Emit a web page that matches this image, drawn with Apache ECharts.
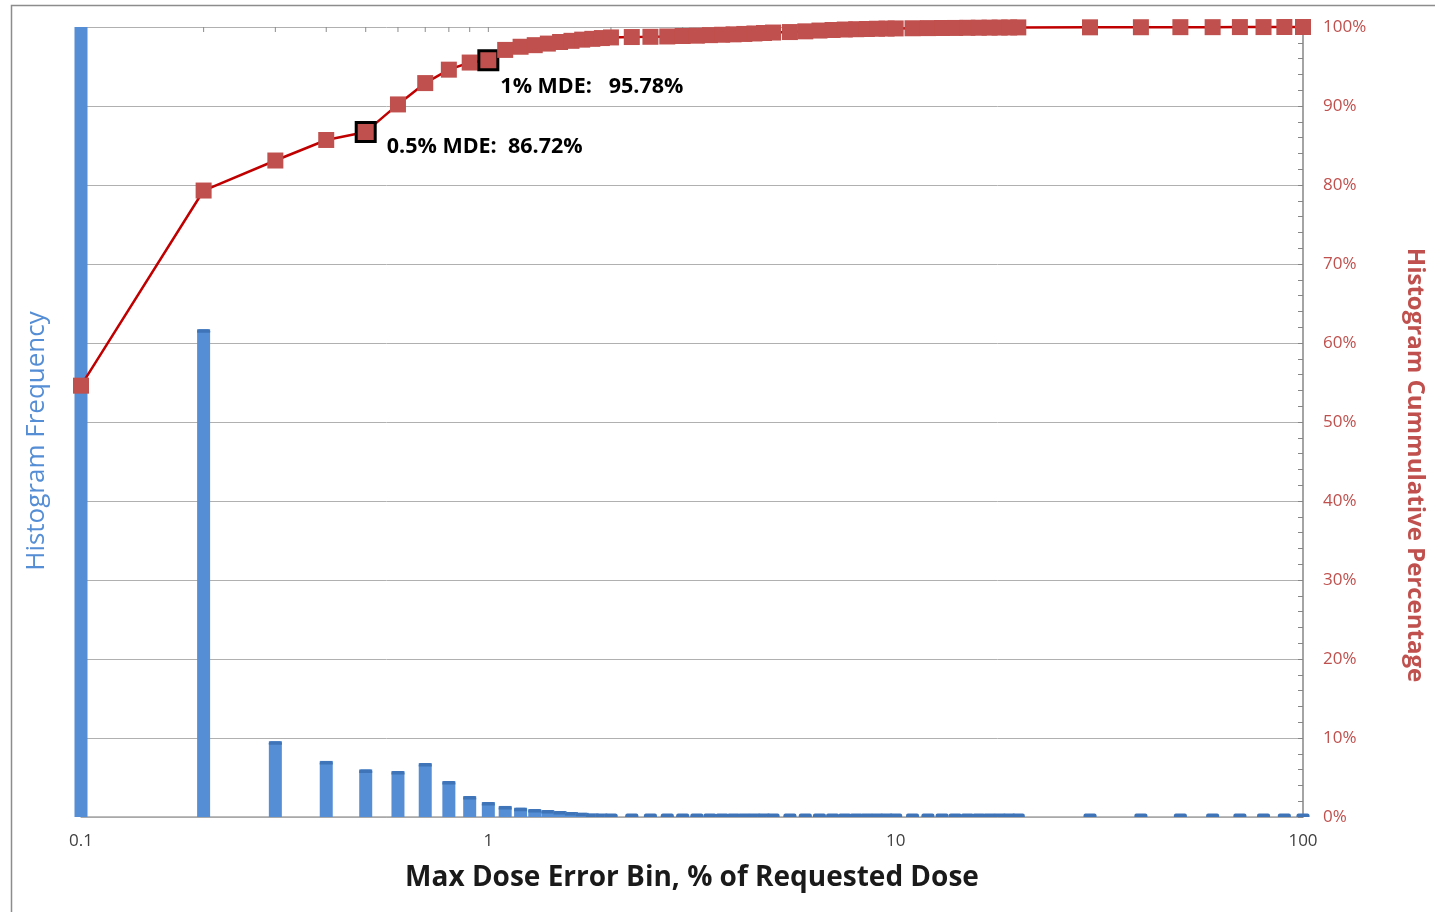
<!DOCTYPE html>
<html>
<head>
<meta charset="utf-8">
<script src="https://cdn.jsdelivr.net/npm/echarts@6/dist/echarts.min.js"></script>
<style>
  html, body { margin: 0; padding: 0; background: #ffffff; }
  #chart { width: 1435px; height: 912px; }
</style>
</head>
<body>
<div id="chart"></div>
<script>
// Max dose error bins (% of requested dose)
const bins = [
  0.1, 0.2, 0.3, 0.4, 0.5, 0.6, 0.7, 0.8, 0.9, 1.0,
  1.1, 1.2, 1.3, 1.4, 1.5, 1.6, 1.7, 1.8, 1.9, 2.0,
  2.25, 2.5, 2.75, 3.0, 3.25, 3.5, 3.75, 4.0, 4.25, 4.5, 4.75, 5.0,
  5.5, 6.0, 6.5, 7.0, 7.5, 8.0, 8.5, 9.0, 9.5, 10,
  11, 12, 13, 14, 15, 16, 17, 18, 19, 20,
  30, 40, 50, 60, 70, 80, 90, 100
];

// Histogram frequency per bin (share of all cases, %)
const frequency = [
  54.6, 24.7, 3.83, 2.84, 2.41, 2.33, 2.73, 1.82, 1.06, 0.76,
  0.56, 0.47, 0.40, 0.35, 0.30, 0.25, 0.21, 0.17, 0.14, 0.12,
  0.06, 0.05, 0.05, 0.05, 0.04, 0.04, 0.04, 0.04, 0.03, 0.03, 0.03, 0.03,
  0.03, 0.03, 0.02, 0.02, 0.02, 0.02, 0.02, 0.02, 0.01, 0.01,
  0.01, 0.01, 0.01, 0.01, 0.01, 0.01, 0.01, 0.01, 0.01, 0.01,
  0.01, 0.01, 0.01, 0.01, 0.01, 0.01, 0.01, 0.01
];

// Cumulative percentage per bin
const cumulative = [
  54.6, 79.3, 83.1, 85.7, 86.72, 90.2, 92.9, 94.6, 95.5, 95.78,
  97.1, 97.5, 97.7, 97.9, 98.1, 98.25, 98.4, 98.5, 98.6, 98.68,
  98.73, 98.76, 98.8, 98.86, 98.9, 98.97, 99.02, 99.07, 99.12, 99.18, 99.24, 99.3,
  99.36, 99.45, 99.55, 99.62, 99.68, 99.72, 99.75, 99.78, 99.8, 99.82,
  99.84, 99.86, 99.87, 99.88, 99.9, 99.91, 99.92, 99.93, 99.94, 99.95,
  99.96, 99.97, 99.98, 99.98, 99.99, 99.99, 100, 100
];

// Highlighted thresholds and their captions
const highlights = [
  { bin: 0.5, caption: '0.5% MDE:  ', offset: [21, 15] },
  { bin: 1.0, caption: '1% MDE:   ', offset: [12, 27] }
];

// Log-scale minor tick positions along the top edge
const topTicks = [
  0.2, 0.3, 0.4, 0.5, 0.6, 0.7, 0.8, 0.9, 1,
  2, 3, 4, 5, 6, 7, 8, 9, 10,
  20, 30, 40, 50, 60, 70, 80, 90
];

// Right-axis percentage ticks
const percentTicks = [0, 10, 20, 30, 40, 50, 60, 70, 80, 90, 100];

const FONT = '"Open Sans", "Noto Sans", sans-serif';
const FREQ_MAX = 40;
const BAR_BLUE = '#558ED5';
const BAR_CAP = '#3F74B8';
const LINE_RED = '#C00000';
const MARK_RED = '#C0504D';

const histData = bins.map((b, i) => [b, frequency[i]]);
const cumData = bins.map((b, i) => {
  const h = highlights.find(d => d.bin === b);
  if (!h) return [b, cumulative[i]];
  return {
    value: [b, cumulative[i]],
    symbolSize: 19,
    itemStyle: { color: MARK_RED, borderColor: '#000000', borderWidth: 3 },
    label: {
      show: true,
      position: 'inside',
      align: 'left',
      verticalAlign: 'middle',
      offset: h.offset,
      fontFamily: FONT,
      fontWeight: 'bold',
      fontSize: 21.5,
      color: '#000000',
      formatter: p => h.caption + p.value[1].toFixed(2) + '%'
    }
  };
});

const chart = echarts.init(document.getElementById('chart'), null, { renderer: 'canvas' });

chart.setOption({
  backgroundColor: '#ffffff',
  animation: false,
  grid: { left: 81, right: 132, top: 27, bottom: 95, containLabel: false },
  xAxis: {
    type: 'log',
    logBase: 10,
    min: 0.1,
    max: 100,
    name: 'Max Dose Error Bin, % of Requested Dose',
    nameLocation: 'middle',
    nameGap: 47,
    nameTextStyle: { fontFamily: FONT, fontWeight: 'bold', fontSize: 28, color: '#1a1a1a' },
    axisLine: { show: true, lineStyle: { color: '#A6A6A6', width: 1.5 } },
    axisTick: { show: false },
    splitLine: { show: false },
    axisLabel: {
      fontFamily: FONT, fontSize: 17, color: '#404040', margin: 16,
      formatter: v => String(v)
    }
  },
  yAxis: [
    {
      type: 'value', min: 0, max: FREQ_MAX, interval: 4,
      axisLine: { show: false }, axisTick: { show: false },
      axisLabel: { show: false }, splitLine: { show: false }
    },
    {
      type: 'value', position: 'right', min: 0, max: 100, interval: 10,
      axisLine: { show: true, lineStyle: { color: '#868686', width: 1.5 } },
      axisTick: { show: true, inside: true, length: 5, lineStyle: { color: '#868686' } },
      minorTick: { show: true, splitNumber: 5, length: 5, lineStyle: { color: '#868686' } },
      splitLine: { show: true, lineStyle: { color: '#B0B0B0', width: 1 } },
      axisLabel: {
        fontFamily: FONT, fontSize: 17, color: MARK_RED, margin: 20,
        formatter: v => percentTicks.includes(v) ? v + '%' : ''
      }
    }
  ],
  series: [
    {
      // Histogram columns with a darker bevel cap
      type: 'custom',
      name: 'Histogram Frequency',
      xAxisIndex: 0, yAxisIndex: 0,
      z: 2,
      data: histData,
      renderItem: (params, api) => {
        const x = api.value(0);
        const base = api.coord([x, 0]);
        const top = api.coord([x, api.value(1)]);
        const cs = params.coordSys;
        const w = 13;
        const clipped = top[1] < cs.y;
        const y = Math.max(top[1], cs.y);
        const children = [{
          type: 'rect',
          shape: { x: base[0] - w / 2, y: y, width: w, height: base[1] - y },
          style: { fill: BAR_BLUE }
        }];
        if (!clipped) {
          const capY = Math.min(y, base[1] - 3.5);
          children.push({
            type: 'rect',
            shape: { x: base[0] - w / 2, y: capY, width: w, height: 3.5, r: [2, 2, 0, 0] },
            style: { fill: BAR_CAP }
          });
        }
        return { type: 'group', children };
      }
    },
    {
      // Short ticks hanging from the top edge at log positions
      type: 'custom',
      xAxisIndex: 0, yAxisIndex: 1,
      z: 1,
      silent: true,
      data: topTicks.map(t => [t, 100]),
      renderItem: (params, api) => {
        const p = api.coord([api.value(0), api.value(1)]);
        return {
          type: 'line',
          shape: { x1: p[0], y1: p[1], x2: p[0], y2: p[1] + 5 },
          style: { stroke: '#8C8C8C', lineWidth: 1 }
        };
      }
    },
    {
      type: 'line',
      name: 'Histogram Cummulative Percentage',
      xAxisIndex: 0, yAxisIndex: 1,
      z: 5,
      clip: false,
      data: cumData,
      symbol: 'rect',
      symbolSize: 16,
      showAllSymbol: true,
      lineStyle: { color: LINE_RED, width: 2.5 },
      itemStyle: { color: MARK_RED },
      emphasis: { disabled: true }
    }
  ],
  graphic: [
    {
      type: 'rect', silent: true, z: 0,
      shape: { x: 11.5, y: 5.5, width: 1450, height: 930 },
      style: { fill: null, stroke: '#8C8C8C', lineWidth: 1.5 }
    },
    {
      type: 'text', silent: true,
      x: 37, y: 441, rotation: Math.PI / 2,
      style: {
        text: 'Histogram Frequency', align: 'center', verticalAlign: 'middle',
        font: '26px ' + FONT, fill: BAR_BLUE
      }
    },
    {
      type: 'text', silent: true,
      x: 1415, y: 465, rotation: -Math.PI / 2,
      style: {
        text: 'Histogram Cummulative Percentage', align: 'center', verticalAlign: 'middle',
        font: 'bold 24px ' + FONT, fill: MARK_RED
      }
    }
  ]
});
</script>
</body>
</html>
